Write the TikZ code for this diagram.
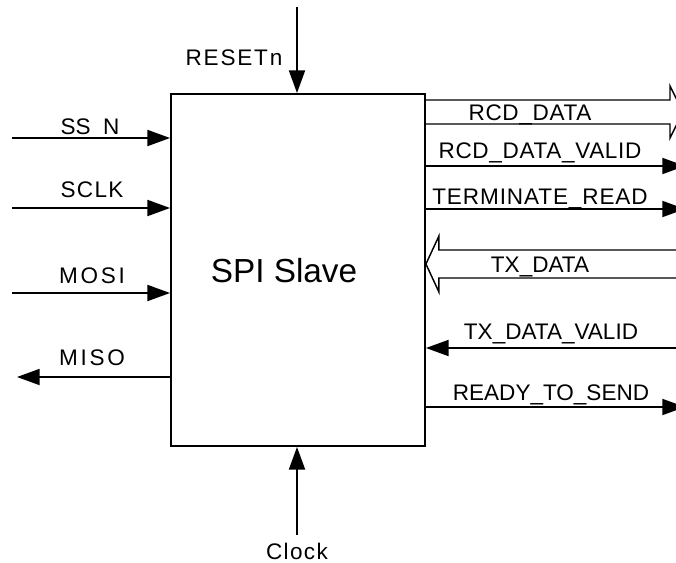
\documentclass[tikz,border=0pt]{standalone}
\usepackage{fontspec}
\setmainfont{Liberation Sans}
\usetikzlibrary{arrows.meta}
\begin{document}
\begin{tikzpicture}[x=0.75pt,y=-0.75pt,
  sig/.style={line width=1.4pt,-{Triangle[length=17pt,width=12pt]}},
  bus/.style={line width=1.1pt},
  lbl/.style={inner sep=0pt,anchor=base,font=\fontsize{16.9pt}{20pt}\selectfont},
  wide/.style={font=\fontsize{16.9pt}{20pt}\selectfont\addfontfeature{LetterSpace=#1}},
  blk/.style={draw,line width=1.4pt,minimum width=190.5pt,minimum height=264pt,inner sep=0pt}]
\useasboundingbox (0,0) rectangle (676,562);
\clip (0,0) rectangle (676,562);
% block
\node[blk] (box) at (298,270) {};
\node[inner sep=0pt,anchor=base,font=\fontsize{25pt}{30pt}\selectfont] (title) at (284,282) {SPI Slave};
% top / bottom
\coordinate (rst) at (297,7);
\draw[sig] (rst) -- (rst |- box.north);
\node[lbl,wide=8] (lrst) at (234,65) {RESETn};
\coordinate (clk) at (297,535);
\draw[sig] (clk) -- (clk |- box.south);
\node[lbl,wide=6] (lclk) at (297,559) {Clock};
% left side
\coordinate (ssn) at (12,138);
\draw[sig] (ssn) -- (ssn -| box.west);
\node[lbl] (lssn) at (90,134) {SS\_N};
\coordinate (sclk) at (12,208);
\draw[sig] (sclk) -- (sclk -| box.west);
\node[lbl,wide=6] (lsclk) at (92,197) {SCLK};
\coordinate (mosi) at (12,293);
\draw[sig] (mosi) -- (mosi -| box.west);
\node[lbl,wide=12] (lmosi) at (92,283) {MOSI};
\coordinate (miso) at (17,377);
\draw[sig] (miso -| box.west) -- (miso);
\node[lbl,wide=12] (lmiso) at (92,365) {MISO};
% right side: RCD_DATA bus (outgoing)
\coordinate (rcd) at (670,112);
\draw[bus,line join=miter] ([yshift=9pt]rcd -| box.east) -- ([yshift=9pt]rcd)
  -- ([yshift=19.5pt]rcd) -- ([xshift=9.75pt]rcd) -- ([yshift=-19.5pt]rcd)
  -- ([yshift=-9pt]rcd) -- ([yshift=-9pt]rcd -| box.east);
\node[lbl,wide=3] (lrcd) at (530,120) {RCD\_DATA};
% RCD_DATA_VALID
\coordinate (rdv) at (685,166);
\draw[sig] (rdv -| box.east) -- (rdv);
\node[lbl,wide=3] (lrdv) at (540,158) {RCD\_DATA\_VALID};
% TERMINATE_READ
\coordinate (trd) at (685,209);
\draw[sig] (trd -| box.east) -- (trd);
\node[lbl,wide=4] (ltrd) at (540,204) {TERMINATE\_READ};
% TX_DATA bus (incoming)
\coordinate (txd) at (680,264);
\coordinate (txtip) at (box.east |- txd);
\draw[bus,line join=miter] ([yshift=10.5pt]txd) -- ([xshift=9.75pt,yshift=10.5pt]txtip)
  -- ([xshift=9.75pt,yshift=21pt]txtip) -- (txtip) -- ([xshift=9.75pt,yshift=-21pt]txtip)
  -- ([xshift=9.75pt,yshift=-10.5pt]txtip) -- ([yshift=-10.5pt]txd);
\node[lbl] (ltxd) at (540,272) {TX\_DATA};
% TX_DATA_VALID
\coordinate (txv) at (680,348);
\draw[sig] (txv) -- (txv -| box.east);
\node[lbl] (ltxv) at (551,339) {TX\_DATA\_VALID};
% READY_TO_SEND
\coordinate (rts) at (685,407);
\draw[sig] (rts -| box.east) -- (rts);
\node[lbl] (lrts) at (551,400) {READY\_TO\_SEND};
\end{tikzpicture}
\end{document}
